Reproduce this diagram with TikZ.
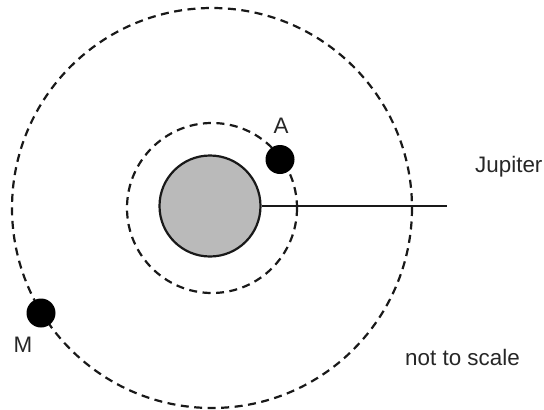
\documentclass[tikz,border=0pt]{standalone}
\usepackage{fontspec}
\setmainfont{Liberation Sans}
\begin{document}
\begin{tikzpicture}[x=1pt,y=-1pt,
  orbit/.style={draw=black!90, line width=2.2pt, dash pattern=on 8pt off 5.5pt},
  planet/.style={circle, draw=black!90, line width=2.2pt, fill=black!27, minimum size=101pt, inner sep=0pt},
  moon/.style={circle, fill=black, minimum size=29pt, inner sep=0pt},
  lbl/.style={font=\fontsize{22.4}{26}\selectfont, text=black!85, inner sep=0pt}]
\useasboundingbox (0,0) rectangle (544,410);
\coordinate (c) at (212,208);
\draw[orbit] (c) circle[radius=85];
\draw[orbit] (c) circle[radius=200];
\node[planet] (jup) at (210,206) {};
\coordinate (lineend) at (447,206);
\draw[line width=2.2pt, draw=black!90] (jup.east) -- (lineend);
\node[moon] (A) at (280,159.5) {};
\node[moon] (M) at (41,313) {};
\node[lbl] (Alab) at (281,126) {A};
\node[lbl] (Mlab) at (23,345) {M};
\node[lbl, anchor=base west] (jlab) at (475,172) {Jupiter};
\node[lbl, anchor=base west] (scale) at (405,365) {not to scale};
\end{tikzpicture}
\end{document}
